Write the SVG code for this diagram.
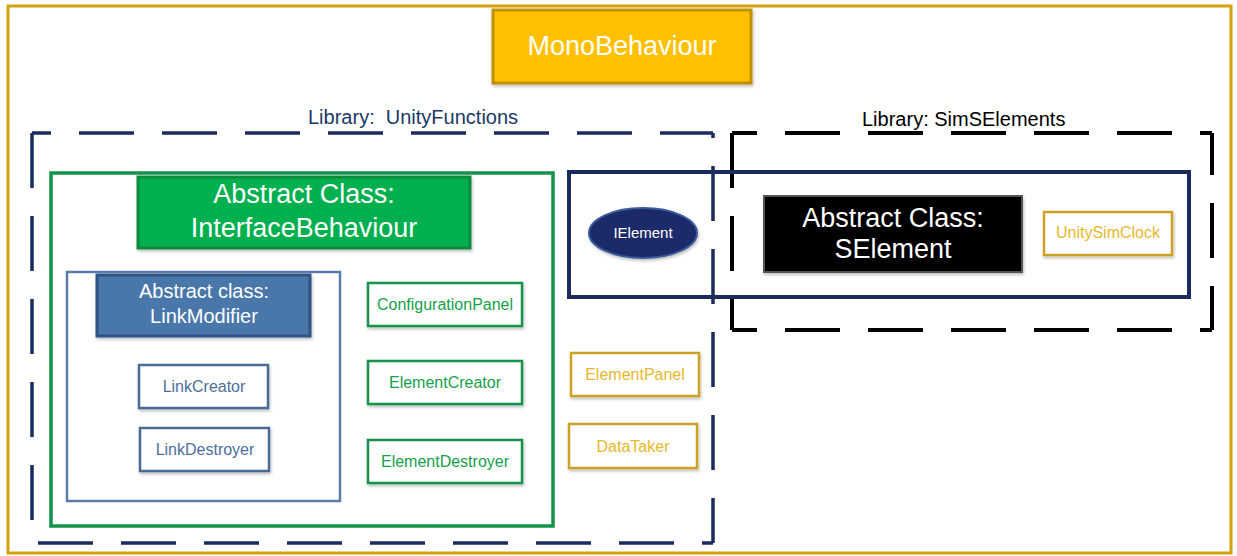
<svg xmlns="http://www.w3.org/2000/svg" width="1237" height="556" viewBox="0 0 1237 556">
  <defs>
    <filter id="shadow" x="-10%" y="-10%" width="130%" height="140%">
      <feDropShadow dx="1" dy="2" stdDeviation="1.5" flood-color="#000" flood-opacity="0.25"/>
    </filter>
    <style>
      text { font-family: "Liberation Sans", Arial, sans-serif; text-anchor: middle; }
      .lib { font-size: 20px; text-anchor: start; }
      .big { font-size: 27px; fill: #ffffff; }
      .mid { font-size: 20px; fill: #ffffff; }
      .small { font-size: 16px; }
      .dash-navy { fill: none; stroke: #1C2B5E; stroke-width: 3.5; stroke-dasharray: 55 28; }
      .dash-black { fill: none; stroke: #000000; stroke-width: 4; stroke-dasharray: 55 28; }
      .green-box { fill: #ffffff; stroke: #13934A; stroke-width: 2.5; }
      .green-txt { fill: #16A04C; }
      .blue-box { fill: #ffffff; stroke: #4A6A94; stroke-width: 2.5; }
      .blue-txt { fill: #4D6F99; }
      .gold-box { fill: #ffffff; stroke: #C9A227; stroke-width: 2.5; }
      .gold-txt { fill: #E6B82A; }
    </style>
  </defs>

  <!-- page background and outer frame -->
  <rect x="0" y="0" width="1237" height="556" fill="#ffffff"/>
  <rect x="8" y="6" width="1223" height="547" fill="#ffffff" stroke="#D4A20A" stroke-width="3"/>

  <!-- library boundaries, one dashed path per side -->
  <g id="lib-unityfunctions">
    <path class="dash-navy" d="M32 133 H713" stroke-dashoffset="36"/>
    <path class="dash-navy" d="M32 133 V543"/>
    <path class="dash-navy" d="M32 543 H713" stroke-dashoffset="77"/>
    <path class="dash-navy" d="M713 543 V133" stroke-dashoffset="10"/>
    <text class="lib" x="308" y="124" fill="#203864" xml:space="preserve">Library:  UnityFunctions</text>
  </g>
  <g id="lib-simselements">
    <path class="dash-black" d="M732 133 H1212" stroke-dashoffset="30"/>
    <path class="dash-black" d="M732 133 V330"/>
    <path class="dash-black" d="M732 330 H1212" stroke-dashoffset="30"/>
    <path class="dash-black" d="M1212 133 V330" stroke-dashoffset="13"/>
    <text class="lib" x="862" y="126" fill="#000000">Library: SimSElements</text>
  </g>

  <!-- containers -->
  <g id="ielement-group">
    <rect x="569" y="172" width="620" height="125" fill="none" stroke="#1C2B5E" stroke-width="4"/>
  </g>
  <g id="interface-group">
    <rect x="51" y="173" width="502" height="353" fill="none" stroke="#13934A" stroke-width="3.5"/>
  </g>
  <g id="linkmodifier-group">
    <rect x="67" y="272" width="273" height="229" fill="none" stroke="#5A7CA6" stroke-width="2.5"/>
  </g>

  <!-- connectors (none drawn) -->
  <g id="connectors"/>

  <!-- nodes -->
  <g id="monobehaviour">
    <rect x="493" y="10" width="258" height="73" fill="#FFC000" stroke="#BF9000" stroke-width="3" filter="url(#shadow)"/>
    <text class="big" x="622" y="55">MonoBehaviour</text>
  </g>

  <g id="interfacebehaviour">
    <rect x="138" y="177" width="332" height="71" fill="#00B050" stroke="#0E8A3E" stroke-width="3" filter="url(#shadow)"/>
    <text class="big" x="304" y="203">Abstract Class:</text>
    <text class="big" x="304" y="237">InterfaceBehaviour</text>
  </g>

  <g id="linkmodifier">
    <rect x="97" y="275" width="213" height="61" fill="#4A77AA" stroke="#2E5385" stroke-width="3" filter="url(#shadow)"/>
    <text class="mid" x="204" y="298">Abstract class:</text>
    <text class="mid" x="204" y="323">LinkModifier</text>
  </g>

  <g id="linkcreator">
    <rect class="blue-box" x="139" y="365" width="129" height="43" filter="url(#shadow)"/>
    <text class="small blue-txt" x="204" y="392">LinkCreator</text>
  </g>
  <g id="linkdestroyer">
    <rect class="blue-box" x="140" y="428" width="129" height="43" filter="url(#shadow)"/>
    <text class="small blue-txt" x="205" y="455">LinkDestroyer</text>
  </g>

  <g id="configurationpanel">
    <rect class="green-box" x="368" y="283" width="154" height="43" filter="url(#shadow)"/>
    <text class="small green-txt" x="445" y="310">ConfigurationPanel</text>
  </g>
  <g id="elementcreator">
    <rect class="green-box" x="368" y="361" width="154" height="43" filter="url(#shadow)"/>
    <text class="small green-txt" x="445" y="388">ElementCreator</text>
  </g>
  <g id="elementdestroyer">
    <rect class="green-box" x="368" y="440" width="154" height="43" filter="url(#shadow)"/>
    <text class="small green-txt" x="445" y="467">ElementDestroyer</text>
  </g>

  <g id="elementpanel">
    <rect class="gold-box" x="571" y="353" width="128" height="43" filter="url(#shadow)"/>
    <text class="small gold-txt" x="635" y="380">ElementPanel</text>
  </g>
  <g id="datataker">
    <rect class="gold-box" x="569" y="424" width="128" height="44" filter="url(#shadow)"/>
    <text class="small gold-txt" x="633" y="452">DataTaker</text>
  </g>

  <g id="ielement">
    <ellipse cx="643" cy="233" rx="54" ry="25" fill="#1B2A6B" stroke="#3A5A9A" stroke-width="2" filter="url(#shadow)"/>
    <text x="643" y="238" font-size="15" fill="#ffffff">IElement</text>
  </g>

  <g id="selement">
    <rect x="764" y="196" width="258" height="76" fill="#000000" stroke="#555555" stroke-width="2" filter="url(#shadow)"/>
    <text class="big" x="893" y="227">Abstract Class:</text>
    <text class="big" x="893" y="258">SElement</text>
  </g>

  <g id="unitysimclock">
    <rect class="gold-box" x="1044" y="212" width="128" height="43" filter="url(#shadow)"/>
    <text class="small gold-txt" x="1108" y="238">UnitySimClock</text>
  </g>
</svg>
